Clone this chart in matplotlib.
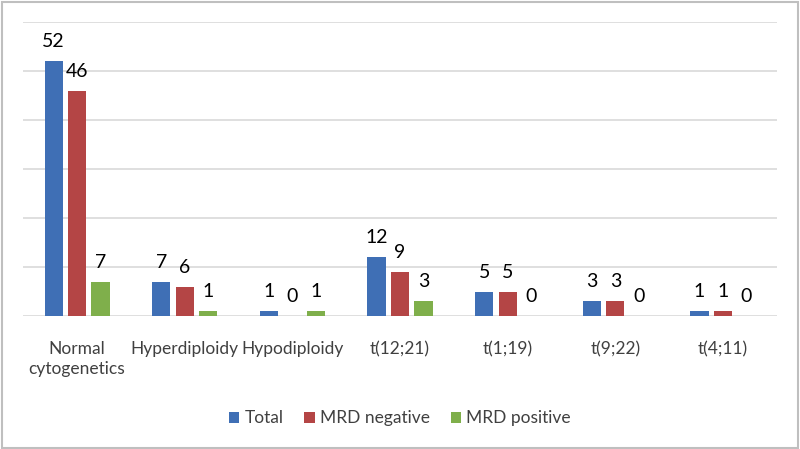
import matplotlib
matplotlib.use("Agg")
import matplotlib.pyplot as plt
import numpy as np

categories = ["Normal\ncytogenetics", "Hyperdiploidy", "Hypodiploidy", "t(12;21)", "t(1;19)", "t(9;22)", "t(4;11)"]
series_names = ["Total", "MRD negative", "MRD positive"]
total = [52, 7, 1, 12, 5, 3, 1]
mrd_negative = [46, 6, 0, 9, 5, 3, 1]
mrd_positive = [7, 1, 1, 3, 0, 0, 0]
colors = ["#3F6FB5", "#B44545", "#7FAF4B"]

plt.rcParams['font.family'] = ['Lato', 'DejaVu Sans']

fig = plt.figure(figsize=(8, 4.49), dpi=100)
ax = fig.add_axes([0.029, 0.296, 0.942, 0.655])

x = np.arange(len(categories))
w = 0.168
off = 0.218
for i, (vals, name, c) in enumerate(zip([total, mrd_negative, mrd_positive], series_names, colors)):
    pos = x + (i - 1) * off
    ax.bar(pos, vals, width=w, color=c, label=name, zorder=3)
    for p, v in zip(pos, vals):
        ax.annotate(str(v), (p, v), xytext=(0, 14), textcoords="offset points",
                    ha="center", va="center", fontsize=14, color="black")

ax.set_xlim(-0.5, len(categories) - 0.5)
ax.set_ylim(0, 60)
ax.set_yticks(np.arange(0, 61, 10))
ax.set_yticklabels([])
ax.tick_params(axis='y', length=0)
ax.grid(axis='y', color="#D9D9D9", linewidth=1.2, zorder=0)
for s in ax.spines.values():
    s.set_visible(False)
ax.set_xticks(x)
ax.set_xticklabels(categories, fontsize=12.5, color="#404040", linespacing=1.3)
ax.tick_params(axis='x', length=0, pad=18)

fig.legend(loc="center", bbox_to_anchor=(0.5, 0.068), ncol=3, frameon=False,
           fontsize=12.5, handlelength=0.6, handleheight=0.6, handletextpad=0.3,
           columnspacing=1.2, labelcolor="#404040")

fig.patches.append(plt.Rectangle((0.002, 0.003), 0.995, 0.993, transform=fig.transFigure,
                                 fill=False, edgecolor="#BFBFBF", linewidth=1.5))
fig.savefig("out.png", dpi=100)
